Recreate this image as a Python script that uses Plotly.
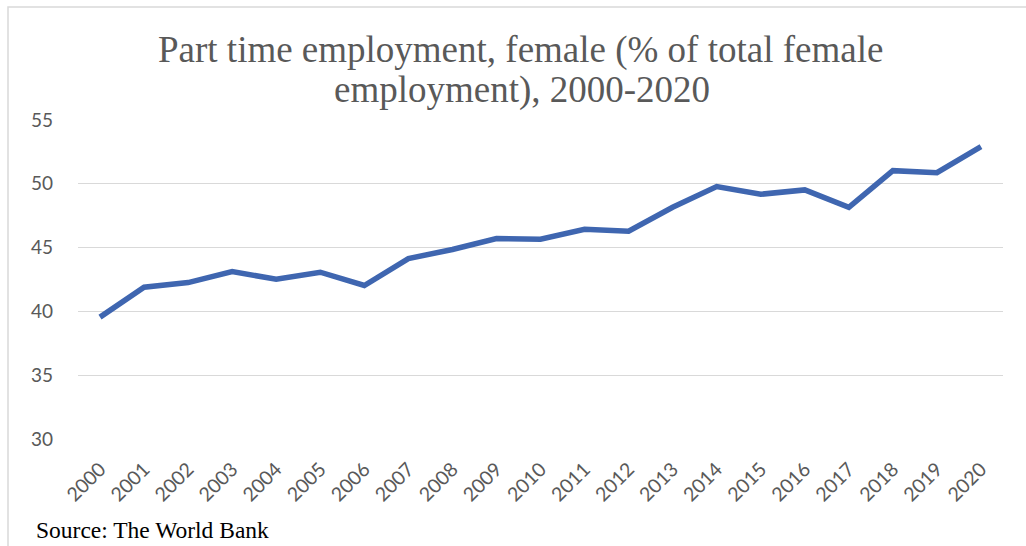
import plotly.graph_objects as go

years = [str(y) for y in range(2000, 2021)]
share = [39.55, 41.9, 42.26, 43.12, 42.52, 43.07, 42.03, 44.14, 44.85, 45.71,
         45.66, 46.44, 46.28, 48.16, 49.78, 49.18, 49.52, 48.16, 51.03, 50.87, 52.91]
y_ticks = [30, 35, 40, 45, 50, 55]
title_lines = ["Part time employment, female (% of total female", "employment), 2000-2020"]

W, H = 1026, 546
L, R, T, B = 78, 23, 120, 107
pw, ph = W - L - R, H - T - B


def px_x(x):
    return (x - L) / pw


def px_y(y):
    return (H - B - y) / ph


serif = "Liberation Serif, Times New Roman, serif"
sans = "Lato, Carlito, Calibri, sans-serif"

fig = go.Figure()
fig.add_trace(go.Scatter(
    x=years, y=share, mode="lines",
    line=dict(color="#3F66B0", width=5.5),
    hoverinfo="x+y", showlegend=False,
))

annotations = []
for line, (cx, cy) in zip(title_lines, [(520, 50), (522, 90)]):
    annotations.append(dict(
        text=line, xref="paper", yref="paper", x=px_x(cx), y=px_y(cy),
        xanchor="center", yanchor="middle", showarrow=False,
        font=dict(family=serif, size=37, color="#595959"),
    ))
annotations.append(dict(
    text="Source: The World Bank", xref="paper", yref="paper",
    x=px_x(34), y=px_y(530), xanchor="left", yanchor="middle", showarrow=False,
    font=dict(family=serif, size=23.5, color="#000000"),
))

fig.update_layout(
    width=W, height=H,
    margin=dict(l=L, r=R, t=T, b=B),
    paper_bgcolor="white", plot_bgcolor="white",
    xaxis=dict(
        type="category", tickangle=-45, showgrid=False, zeroline=False,
        showline=False, ticks="", range=[-0.5, len(years) - 0.5],
        ticklabelstandoff=14,
        tickfont=dict(family=sans, size=19.5, color="#595959"),
    ),
    yaxis=dict(
        range=[30, 55], tickvals=y_ticks, showgrid=True, gridcolor="#D9D9D9",
        gridwidth=1.3, zeroline=False, showline=False, ticks="",
        ticklabelstandoff=24,
        tickfont=dict(family=sans, size=19, color="#595959"),
    ),
    shapes=[dict(
        type="rect", xref="paper", yref="paper",
        x0=px_x(8), x1=px_x(1040), y0=px_y(560), y1=px_y(7),
        line=dict(color="#D9D9D9", width=1.5), fillcolor="rgba(0,0,0,0)", layer="below",
    )],
    annotations=annotations,
)

fig.write_html("out.html")
